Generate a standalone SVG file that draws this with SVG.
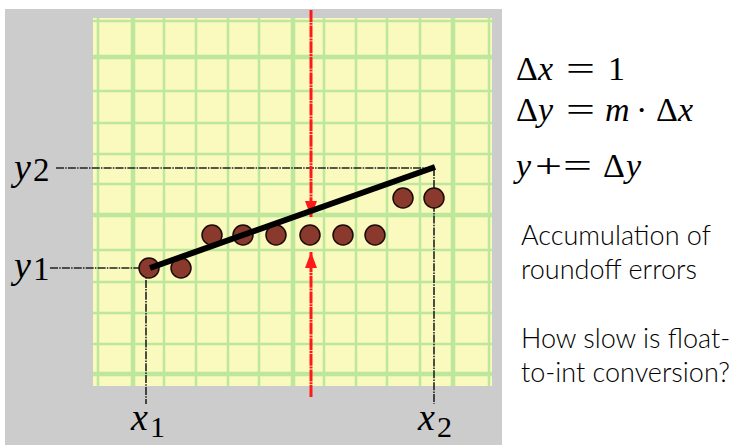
<svg xmlns="http://www.w3.org/2000/svg" width="741" height="445" viewBox="0 0 741 445">
<style>
.g{stroke:#bde89c;stroke-width:2.5}
.gt{stroke:#bde89c;stroke-width:4.5}
.dash{stroke:#222;stroke-width:1.6;stroke-dasharray:8 1.2 1.5 1.2;fill:none}
.red{stroke:#ff1a1a;stroke-width:3;stroke-dasharray:12 0.8 2 0.8;fill:none}
.dot{fill:#8a3a2c;stroke:#1a0a08;stroke-width:1.5}
.t{font-family:Lato,"Open Sans","Liberation Sans",sans-serif;font-weight:300;font-size:27px;fill:#000}
</style>
<defs>
<marker id="ah" viewBox="0 0 16 12" refX="16" refY="6" markerWidth="17" markerHeight="12" markerUnits="userSpaceOnUse" orient="auto">
<path d="M0,0 L16,6 L0,12 Z" fill="#ff1a1a"/>
</marker>
</defs>
<rect x="0" y="0" width="741" height="445" fill="#fff"/>
<g id="panel">
<rect x="5" y="9" width="497" height="436" fill="#cccccc"/>
<rect x="93" y="18" width="399" height="368" fill="#fafabe"/>
<g id="grid">
<line class="g" x1="98" y1="18" x2="98" y2="386"/>
<line class="gt" x1="133" y1="18" x2="133" y2="386"/>
<line class="g" x1="164" y1="18" x2="164" y2="386"/>
<line class="g" x1="196" y1="18" x2="196" y2="386"/>
<line class="g" x1="228" y1="18" x2="228" y2="386"/>
<line class="g" x1="259" y1="18" x2="259" y2="386"/>
<line class="gt" x1="293" y1="18" x2="293" y2="386"/>
<line class="g" x1="324" y1="18" x2="324" y2="386"/>
<line class="g" x1="356" y1="18" x2="356" y2="386"/>
<line class="g" x1="387" y1="18" x2="387" y2="386"/>
<line class="g" x1="420" y1="18" x2="420" y2="386"/>
<line class="gt" x1="453" y1="18" x2="453" y2="386"/>
<line class="g" x1="489" y1="18" x2="489" y2="386"/>
<line class="g" x1="93" y1="21" x2="492" y2="21"/>
<line class="gt" x1="93" y1="57" x2="492" y2="57"/>
<line class="g" x1="93" y1="91" x2="492" y2="91"/>
<line class="g" x1="93" y1="123" x2="492" y2="123"/>
<line class="g" x1="93" y1="154" x2="492" y2="154"/>
<line class="g" x1="93" y1="184" x2="492" y2="184"/>
<line class="gt" x1="93" y1="215" x2="492" y2="215"/>
<line class="g" x1="93" y1="250" x2="492" y2="250"/>
<line class="g" x1="93" y1="282" x2="492" y2="282"/>
<line class="g" x1="93" y1="313" x2="492" y2="313"/>
<line class="g" x1="93" y1="344" x2="492" y2="344"/>
<line class="gt" x1="93" y1="374" x2="492" y2="374"/>
</g>
</g>
<g id="connectors">
<line class="dash" x1="56" y1="168" x2="435" y2="168"/>
<line class="dash" x1="50" y1="268" x2="149" y2="268"/>
<line class="dash" x1="146" y1="268" x2="146" y2="404"/>
<line class="dash" x1="434" y1="168" x2="434" y2="404"/>
<line class="red" x1="311" y1="10" x2="311" y2="217" marker-end="url(#ah)"/>
<line class="red" x1="311" y1="397" x2="311" y2="252" marker-end="url(#ah)"/>
</g>
<g id="pixels">
<circle class="dot" cx="149" cy="268" r="10"/>
<circle class="dot" cx="181" cy="268" r="10"/>
<circle class="dot" cx="212" cy="235" r="10"/>
<circle class="dot" cx="243" cy="235" r="10"/>
<circle class="dot" cx="276" cy="235" r="10"/>
<circle class="dot" cx="310" cy="235" r="10"/>
<circle class="dot" cx="343" cy="235" r="10"/>
<circle class="dot" cx="375" cy="235" r="10"/>
<circle class="dot" cx="403" cy="198" r="10"/>
<circle class="dot" cx="434" cy="198" r="10"/>
</g>
<g id="line">
<line x1="150" y1="268" x2="435" y2="167" stroke="#000" stroke-width="6"/>
</g>
<g id="labels" font-family="Liberation Serif, serif" fill="#000">
<g id="label-y2"><text x="14" y="180" font-size="38" font-style="italic">y</text><text x="33" y="181" font-size="33">2</text></g>
<g id="label-y1"><text x="14" y="278" font-size="38" font-style="italic">y</text><text x="33" y="280" font-size="33">1</text></g>
<g id="label-x1"><text x="131" y="430" font-size="38" font-style="italic">x</text><text x="150" y="437" font-size="30">1</text></g>
<g id="label-x2"><text x="418" y="430" font-size="38" font-style="italic">x</text><text x="437" y="437" font-size="30">2</text></g>
</g>
<g id="equations" font-family="Liberation Serif, serif" fill="#000" font-size="34">
<text x="516" y="80">Δ</text><text x="538" y="80" font-style="italic">x</text><text x="566" y="80" textLength="29" lengthAdjust="spacingAndGlyphs">=</text><text x="608" y="80">1</text>
<text x="516" y="121">Δ</text><text x="538" y="121" font-style="italic">y</text><text x="566" y="121" textLength="29" lengthAdjust="spacingAndGlyphs">=</text><text x="605" y="121" font-style="italic">m</text><text x="636" y="121">·</text><text x="656" y="121">Δ</text><text x="678" y="121" font-style="italic">x</text>
<text x="516" y="177" font-style="italic">y</text><text x="535" y="177" textLength="27" lengthAdjust="spacingAndGlyphs">+</text><text x="563" y="177" textLength="29" lengthAdjust="spacingAndGlyphs">=</text><text x="603" y="177">Δ</text><text x="626" y="177" font-style="italic">y</text>
</g>
<g id="notes" class="t">
<text x="521" y="245">Accumulation of</text>
<text x="521" y="279">roundoff errors</text>
<text x="521" y="348">How slow is float-</text>
<text x="521" y="382">to-int conversion?</text>
</g>
</svg>
